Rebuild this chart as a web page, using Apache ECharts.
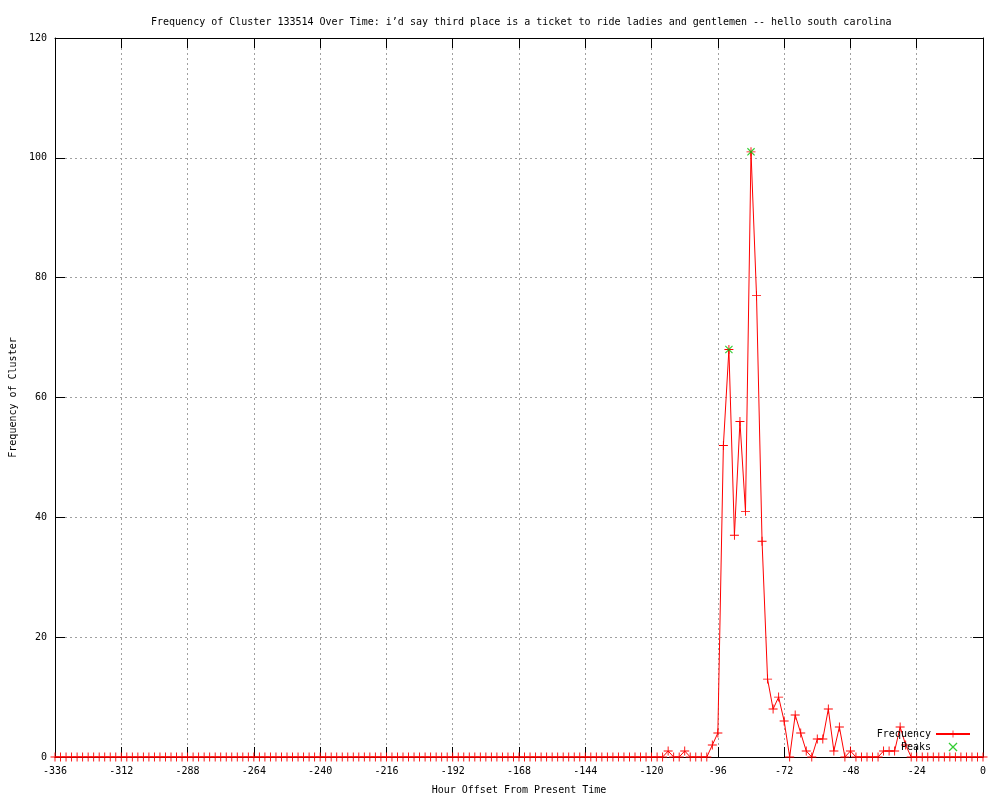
<!DOCTYPE html>
<html>
<head>
<meta charset="utf-8">
<script src="https://cdn.jsdelivr.net/npm/echarts@6/dist/echarts.min.js"></script>
<style>html,body{margin:0;padding:0;background:#fff;}#c{width:1000px;height:800px;}</style>
</head>
<body>
<div id="c"></div>
<script>
var titleText = "Frequency of Cluster 133514 Over Time: i\u2019d say third place is a ticket to ride ladies and gentlemen -- hello south carolina";
var xAxisName = "Hour Offset From Present Time";
var yAxisName = "Frequency of Cluster";

// hours from -336 to 0, every 2 hours
var hours = [];
for (var h = -336; h <= 0; h += 2) hours.push(h);

// frequency at each hour
var frequency = [
  0,0,0,0,0,0,0,0,0,0,
  0,0,0,0,0,0,0,0,0,0,
  0,0,0,0,0,0,0,0,0,0,
  0,0,0,0,0,0,0,0,0,0,
  0,0,0,0,0,0,0,0,0,0,
  0,0,0,0,0,0,0,0,0,0,
  0,0,0,0,0,0,0,0,0,0,
  0,0,0,0,0,0,0,0,0,0,
  0,0,0,0,0,0,0,0,0,0,
  0,0,0,0,0,0,0,0,0,0,
  0,0,0,0,0,0,0,
  // -122 .. -26
  0,0,0,0,1,0,0,1,0,0,
  0,0,2,4,52,68,37,56,41,101,
  77,36,13,8,10,6,0,7,4,1,
  0,3,3,8,1,5,0,1,0,0,
  0,0,0,1,1,1,5,2,0,
  // -24 .. 0
  0,0,0,0,0,0,0,0,0,0,0,0,0
];

var peakHours = [-92, -84];
var peakValues = [68, 101];

var xTicks = { min: -336, max: 0, interval: 24 };
var yTicks = { min: 0, max: 120, interval: 20 };

var freqData = hours.map(function (h, i) { return [h, frequency[i]]; });
var peakData = peakHours.map(function (h, i) { return [h, peakValues[i]]; });

var FONT = "DejaVu Sans Mono";
var plusPath = 'path://M0,4.5H10V5.5H0Z M4.5,0H5.5V10H4.5Z';
var crossPath = 'path://M0,1L1,0L10,9L9,10Z M9,0L10,1L1,10L0,9Z';

var chart = echarts.init(document.getElementById('c'), null, { renderer: 'canvas' });
chart.setOption({
  animation: false,
  backgroundColor: '#ffffff',
  textStyle: { fontFamily: FONT, fontSize: 10, color: '#000' },
  title: {
    text: titleText,
    left: 146, top: 12,
    textStyle: { fontFamily: FONT, fontSize: 10, fontWeight: 'normal', color: '#000' }
  },
  grid: { left: 55, right: 17, top: 38, bottom: 40 },
  legend: {
    orient: 'vertical',
    align: 'right',
    right: 24, top: 724,
    itemWidth: 34, itemHeight: 9, itemGap: 3,
    textStyle: { fontFamily: FONT, fontSize: 10, color: '#000' },
    data: ['Frequency', 'Peaks']
  },
  xAxis: [{
    type: 'value', position: 'bottom',
    min: xTicks.min, max: xTicks.max, interval: xTicks.interval,
    name: xAxisName, nameLocation: 'middle', nameGap: 28,
    nameTextStyle: { fontFamily: FONT, fontSize: 10, color: '#000' },
    axisLine: { show: true, onZero: false, lineStyle: { color: '#000', width: 1 } },
    axisTick: { show: true, inside: true, length: 10, lineStyle: { color: '#000' } },
    axisLabel: { fontFamily: FONT, fontSize: 10, color: '#000', margin: 9 },
    splitLine: { show: true, lineStyle: { color: '#a0a0a0', type: [2, 3], width: 1 } }
  }, {
    type: 'value', position: 'top',
    min: xTicks.min, max: xTicks.max, interval: xTicks.interval,
    axisLine: { show: true, onZero: false, lineStyle: { color: '#000', width: 1 } },
    axisTick: { show: true, inside: true, length: 10, lineStyle: { color: '#000' } },
    axisLabel: { show: false },
    splitLine: { show: false }
  }],
  yAxis: [{
    type: 'value', position: 'left',
    min: yTicks.min, max: yTicks.max, interval: yTicks.interval,
    name: yAxisName, nameLocation: 'middle', nameGap: 37, nameRotate: 90,
    nameTextStyle: { fontFamily: FONT, fontSize: 10, color: '#000' },
    axisLine: { show: true, onZero: false, lineStyle: { color: '#000', width: 1 } },
    axisTick: { show: true, inside: true, length: 10, lineStyle: { color: '#000' } },
    axisLabel: { fontFamily: FONT, fontSize: 10, color: '#000', margin: 8 },
    splitLine: { show: true, lineStyle: { color: '#a0a0a0', type: [2, 3], width: 1 } }
  }, {
    type: 'value', position: 'right',
    min: yTicks.min, max: yTicks.max, interval: yTicks.interval,
    axisLine: { show: true, onZero: false, lineStyle: { color: '#000', width: 1 } },
    axisTick: { show: true, inside: true, length: 10, lineStyle: { color: '#000' } },
    axisLabel: { show: false },
    splitLine: { show: false }
  }],
  series: [{
    name: 'Frequency',
    type: 'line',
    xAxisIndex: 0, yAxisIndex: 0,
    data: freqData,
    showAllSymbol: true,
    symbol: plusPath,
    symbolSize: 9,
    itemStyle: { color: '#ff0000' },
    lineStyle: { color: '#ff0000', width: 1 },
    z: 2
  }, {
    name: 'Peaks',
    type: 'scatter',
    xAxisIndex: 0, yAxisIndex: 0,
    data: peakData,
    symbol: crossPath,
    symbolSize: 8,
    symbolKeepAspect: true,
    itemStyle: { color: '#00c000' },
    z: 3
  }]
});
</script>
</body>
</html>
